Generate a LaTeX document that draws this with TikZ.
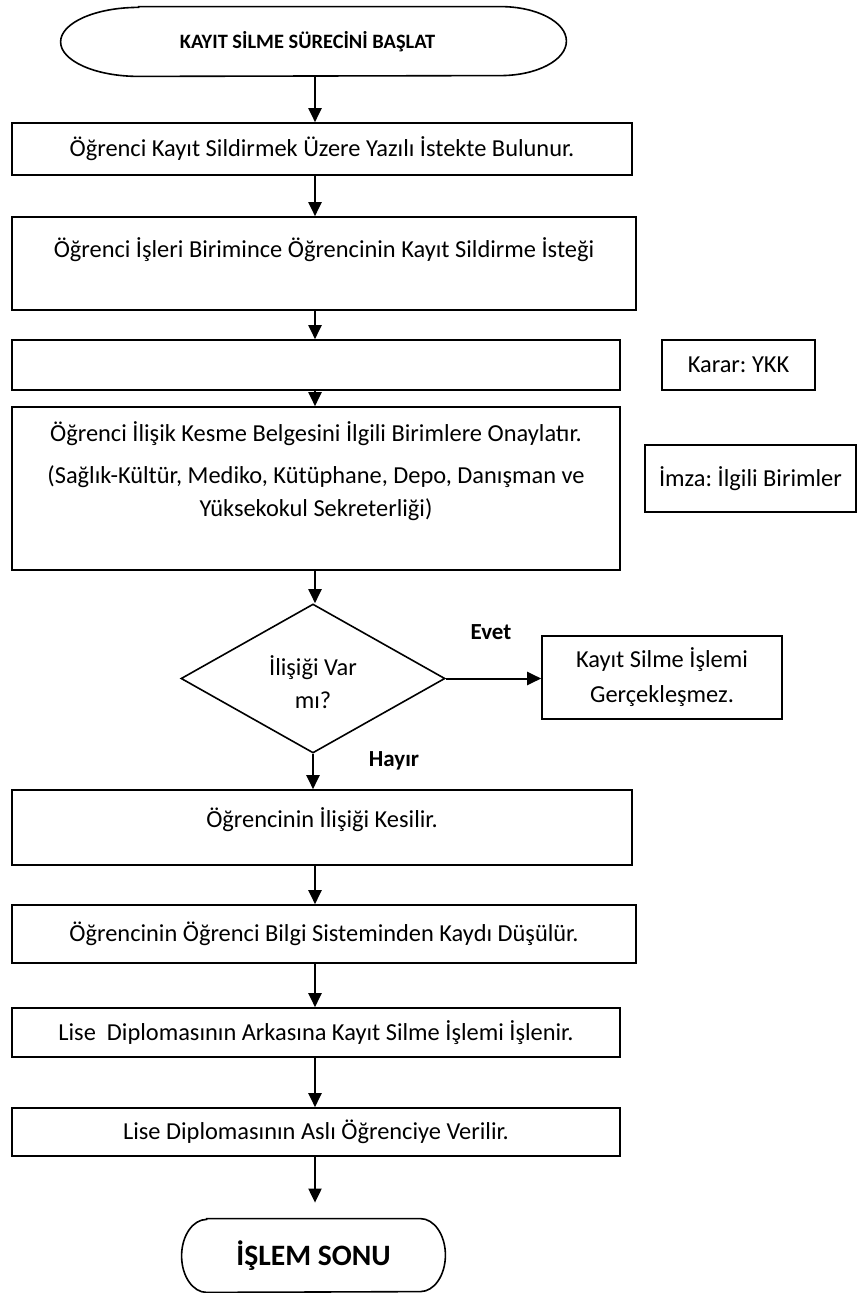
\documentclass[tikz,border=0pt]{standalone}
\usepackage{fontspec}
\setmainfont{Carlito}
\usetikzlibrary{shapes.geometric,arrows.meta}
\frenchspacing
\begin{document}
\begin{tikzpicture}[x=0.5pt,y=-0.5pt,
  txt/.style={font=\fontsize{12.2}{18.5}\selectfont},
  box/.style={draw, line width=0.8pt, rectangle, inner sep=0pt, align=center, txt},
  decision/.style={draw, line width=0.8pt, diamond, inner sep=0pt},
  outline/.style={line width=0.8pt},
  arr/.style={line width=1pt, -{Triangle[length=7pt,width=6.5pt]}},
  yesno/.style={font=\bfseries\fontsize{11.5}{14}\selectfont}]
\useasboundingbox (0,0) rectangle (858,1293);
\coordinate (spine) at (315,0);

% start terminal (straight sides, half-elliptic ends)
\node[minimum width=252.5pt, minimum height=34.5pt, inner sep=0pt,
      font=\bfseries\fontsize{10.2}{12}\selectfont] (start) at (313.5,41.5) {\hspace*{-6pt}KAYIT SİLME SÜRECİNİ BAŞLAT};
\draw[outline] ([xshift=39pt]start.north west) -- ([xshift=-33pt]start.north east)
  arc[start angle=90, end angle=-90, x radius=33pt, y radius=17.25pt]
  -- ([xshift=39pt]start.south west)
  arc[start angle=270, end angle=90, x radius=39pt, y radius=17.25pt] -- cycle;

% main process boxes
\node[box, minimum width=310pt, minimum height=26pt] (b1) at (322,149)
  {Öğrenci Kayıt Sildirmek Üzere Yazılı İstekte Bulunur.};
\node[box, minimum width=312pt, minimum height=46.5pt,
  label={[txt, anchor=center, yshift=-16.5pt]north:Öğrenci İşleri Birimince Öğrencinin Kayıt Sildirme İsteği}] (b2) at (324,263.5) {};
\node[box, minimum width=304pt, minimum height=25pt] (b3) at (316,365) {};
\node[box, minimum width=76.5pt, minimum height=25pt] (karar) at (738.5,365) {Karar: YKK};
\node[box, minimum width=304pt, minimum height=81.5pt,
  label={[font=\fontsize{12.2}{16.5}\selectfont, align=center, anchor=center, yshift=-32.5pt]north:Öğrenci İlişik Kesme Belgesini İlgili Birimlere Onaylatır.\\[4.5pt](Sağlık-Kültür, Mediko, Kütüphane, Depo, Danışman ve\\Yüksekokul Sekreterliği)}] (b4) at (316,488.5) {};
\node[box, minimum width=105.5pt, minimum height=33.5pt] (imza) at (750.5,478.5) {İmza: İlgili Birimler};

% decision
\node[decision, minimum width=132pt, minimum height=74.5pt,
  label={[font=\fontsize{12.2}{16.5}\selectfont, align=center, anchor=center, yshift=-2pt]center:İlişiği Var\\mı?}] (dec) at (313,678.5) {};
\node[box, minimum width=120pt, minimum height=41.5pt,
  font=\fontsize{12.2}{17.5}\selectfont] (no) at (662,677.5) {Kayıt Silme İşlemi\\Gerçekleşmez.};
\node[yesno] (evet) at (491,632) {Evet};
\node[yesno] (hayir) at (394,761) {Hayır};

\node[box, minimum width=310pt, minimum height=37.5pt,
  label={[txt, anchor=center, yshift=-15pt]north:Öğrencinin İlişiği Kesilir.}] (b5) at (322,827.5) {};
\node[box, minimum width=312pt, minimum height=29pt] (b6) at (324,934)
  {Öğrencinin Öğrenci Bilgi Sisteminden Kaydı Düşülür.};
\node[box, minimum width=304pt, minimum height=24.5pt] (b7) at (316,1032.5)
  {Lise~ Diplomasının Arkasına Kayıt Silme İşlemi İşlenir.};
\node[box, minimum width=304pt, minimum height=24pt] (b8) at (316,1132)
  {Lise Diplomasının Aslı Öğrenciye Verilir.};

% end terminal
\node[minimum width=131.5pt, minimum height=36.5pt, inner sep=0pt,
      font=\bfseries\fontsize{14.8}{17}\selectfont] (end) at (313.5,1255.5) {İŞLEM SONU};
\draw[outline] ([xshift=12.5pt]end.north west) -- ([xshift=-12.5pt]end.north east)
  arc[start angle=90, end angle=-90, x radius=12.5pt, y radius=18.25pt]
  -- ([xshift=12.5pt]end.south west)
  arc[start angle=270, end angle=90, x radius=12.5pt, y radius=18.25pt] -- cycle;

% connectors
\draw[arr] (start.south -| spine) -- (b1.north -| spine);
\draw[arr] (b1.south -| spine) -- (b2.north -| spine);
\draw[arr] (b2.south -| spine) -- (b3.north -| spine);
\draw[arr] (b3.south -| spine) -- (b4.north -| spine);
\draw[arr] (b4.south -| spine) -- (dec.north -| spine);
\draw[arr] (dec.east) -- (dec.east -| no.west);
\draw[arr] (dec.south) -- (b5.north -| dec.south);
\draw[arr] (b5.south -| spine) -- (b6.north -| spine);
\draw[arr] (b6.south -| spine) -- (b7.north -| spine);
\draw[arr] (b7.south -| spine) -- (b8.north -| spine);
\draw[arr, shorten >=8pt] (b8.south -| spine) -- (end.north -| spine);
\end{tikzpicture}
\end{document}
